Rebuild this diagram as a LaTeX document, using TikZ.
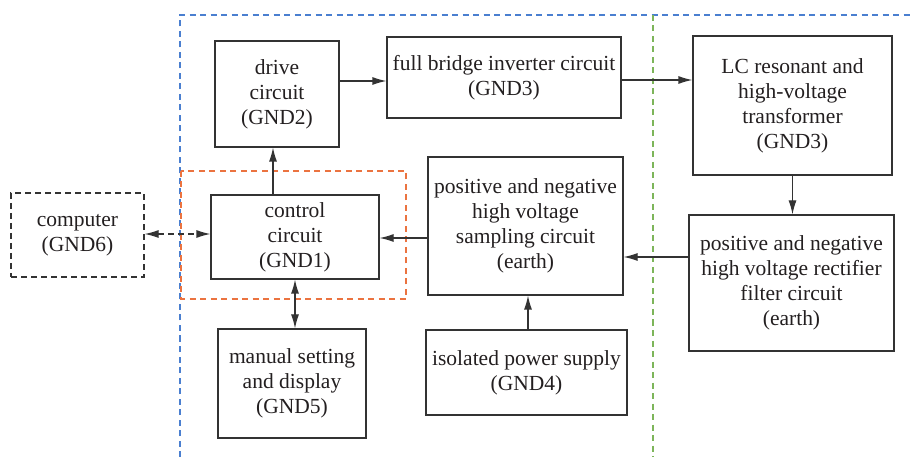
\documentclass[tikz,border=0pt]{standalone}
\usepackage{fontspec}
\setmainfont{Liberation Serif}
\newfontfamily\blkfont{Liberation Serif}
\usetikzlibrary{arrows.meta}
\definecolor{txt}{HTML}{231F20}
\definecolor{lin}{HTML}{333333}
\definecolor{gblue}{HTML}{4A7FD0}
\definecolor{gorange}{HTML}{EB7340}
\definecolor{ggreen}{HTML}{7DB55A}
\begin{document}
\begin{tikzpicture}[x=1pt,y=-1pt,
  blk/.style={draw=lin,line width=1.2pt,text=txt,align=center,inner sep=0pt,
    font=\blkfont\fontsize{21.5}{25}\selectfont},
  tip/.tip={Latex[length=14pt,width=8pt]},
  arr/.style={draw=lin,line width=1.2pt,-tip},
  zone/.style={line width=1.1pt,dash pattern=on 6pt off 4.5pt}]
  \useasboundingbox (0,0) rectangle (911,457);
  % ground zones
  \draw[zone,gblue] (180,457) -- (180,15) -- (911,15);
  \draw[zone,ggreen] (653,15) -- (653,457);
  \draw[zone,gorange] (181,171) rectangle (406,299);
  % blocks
  \node[blk,dashed,dash pattern=on 6pt off 4pt,minimum width=133pt,minimum height=84pt] (comp) at (77.5,235) {computer\\(GND6)};
  \node[blk,minimum width=168pt,minimum height=84pt] (ctrl) at (295,237) {control\\circuit\\(GND1)};
  \node[blk,minimum width=124pt,minimum height=106pt] (drv) at (277,94) {drive\\circuit\\(GND2)};
  \node[blk,minimum width=234pt,minimum height=81pt] (inv) at (504,77.5) {full bridge inverter circuit\\(GND3)};
  \node[blk,minimum width=199pt,minimum height=139pt] (lc) at (792.5,105.5) {LC resonant and\\high-voltage\\transformer\\(GND3)};
  \node[blk,minimum width=205pt,minimum height=136pt] (rect) at (791.5,283) {positive and negative\\high voltage rectifier\\filter circuit\\(earth)};
  \node[blk,minimum width=195pt,minimum height=138pt] (samp) at (525.5,226) {positive and negative\\high voltage\\sampling circuit\\(earth)};
  \node[blk,minimum width=201pt,minimum height=85pt] (iso) at (526.5,372.5) {isolated power supply\\(GND4)};
  \node[blk,minimum width=148pt,minimum height=109pt] (man) at (292,383.5) {manual setting\\and display\\(GND5)};
  % signal flow
  \draw[arr] (drv.east |- 0,81) -- (inv.west |- 0,81);
  \draw[arr] (inv.east |- 0,80) -- (lc.west |- 0,80);
  \draw[arr] (lc.south) -- (rect.north -| lc.south);
  \draw[arr] (rect.west |- 0,257) -- (samp.east |- 0,257);
  \draw[arr] (samp.west |- 0,238) -- (ctrl.east |- 0,238);
  \draw[arr] (iso.north -| 528,0) -- (samp.south -| 528,0);
  \draw[arr] (ctrl.north -| 273,0) -- (drv.south -| 273,0);
  \draw[arr,tip-tip] (ctrl.south) -- (man.north -| ctrl.south);
  \draw[arr,dash pattern=on 6pt off 4pt,tip-tip] (comp.east |- 0,234) -- (ctrl.west |- 0,234);
\end{tikzpicture}
\end{document}
